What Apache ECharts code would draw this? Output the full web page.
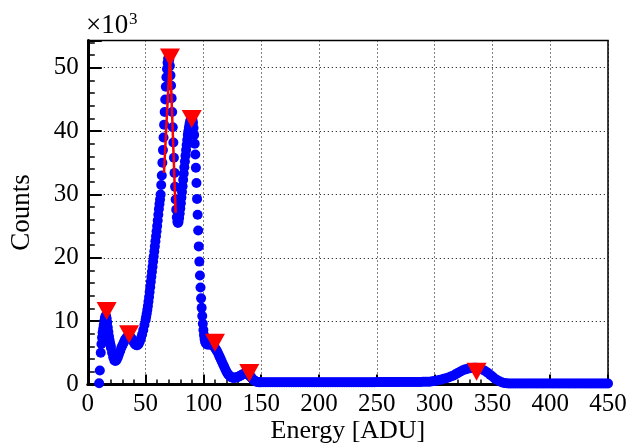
<!DOCTYPE html>
<html>
<head>
<meta charset="utf-8">
<script src="https://cdn.jsdelivr.net/npm/echarts@6/dist/echarts.min.js"></script>
<style>html,body{margin:0;padding:0;background:#fff;}#c{width:630px;height:444px;}</style>
</head>
<body>
<div id="c"></div>
<script>
// Energy [ADU], Counts [x10^3]
const lowEnergy = [[9.8,0.2],[10.4,2.2],[11.2,5.0],[11.8,6.4],[12.3,7.4],[12.8,8.2],[13.3,8.8],[13.8,9.4],[14.3,10.0],[14.8,10.5],
  [15.3,10.8],[15.8,10.8],[16.3,10.4],[16.8,9.8],[17.3,9.0],[17.8,8.3],[18.3,7.6],[18.8,7.0],[19.3,6.5],[19.8,6.1],
  [20,5.8],[21,5.0],[22,4.3],[23,3.8],[24,3.7],[25,3.9],[26,4.3],[27,4.8],[28,5.3],[29,5.8],
  [30,6.2],[31,6.6],[32,7.0],[33,7.3],[34,7.5],[35,7.6],[36,7.6],[37,7.5],[38,7.2],[39,6.9],
  [40,6.6],[41,6.3],[42,6.2],[43,6.2],[44,6.4],[45,6.8],[46,7.3],[47,7.9],[48,8.6],[49,9.4]];
const mainPeaks = [[50,10.2],[50.5,10.7],[51,11.2],[51.5,11.8],[52,12.4],[52.5,13.1],[53,13.8],[53.5,14.6],[54,15.4],[54.5,16.2],
  [55,17.0],[55.5,17.8],[56,18.6],[56.5,19.4],[57,20.2],[57.5,21.0],[58,21.8],[58.5,22.6],[59,23.4],[59.5,24.2],
  [60,25.0],[60.5,25.9],[61,26.8],[61.5,27.7],[62,28.5],[62.5,29.2],[63,30.0],[63.5,31.5],[64,33.0],[64.5,35.0],
  [65,37.0],[65.5,39.0],[66,41.0],[66.5,43.0],[67,45.0],[67.5,47.0],[68,48.5],[68.5,49.8],[69,50.8],[69.5,51.4],
  [70,51.6],[70.5,51.3],[71,50.3],[71.5,48.8],[72,47.2],[72.5,45.2],[73,43.0],[73.5,40.6],[74,38.2],[74.5,35.8],
  [75,33.4],[75.5,31.2],[76,29.2],[76.5,27.6],[77,26.4],[77.5,25.7],[78,25.5],[78.5,25.7],[79,26.3],[79.5,27.0],
  [80,27.8],[80.5,28.6],[81,29.5],[81.5,30.4],[82,31.3],[82.5,32.3],[83,33.3],[83.5,34.3],[84,35.2],[84.5,36.1],
  [85,37.0],[85.5,37.8],[86,38.6],[86.5,39.4],[87,40.0],[87.5,40.6],[88,41.1],[88.5,41.5],[89,41.8],[89.5,42.0],
  [90,42.0],[90.5,41.8],[91,41.3],[91.5,40.5],[92,39.4],[92.5,38.0],[93,36.3],[93.5,34.2],[94,31.8],[94.5,29.3],
  [95,26.8],[95.5,24.3],[96,21.8],[96.5,19.4],[97,17.2],[97.5,15.3],[98,13.6],[98.5,12.1],[99,10.8],[99.5,9.6],
  [100,8.6],[100.5,7.8],[101,7.2],[101.5,6.8]];
const tailRegion = [[102,6.5],[103,6.3],[104,6.3],[105,6.3],[106,6.3],[107,6.3],[108,6.2],[109,6.0],[110,5.8],[111,5.5],
  [112,5.2],[113,4.8],[114,4.4],[115,4.0],[116,3.6],[117,3.2],[118,2.8],[119,2.4],[120,2.0],[121,1.7],
  [122,1.5],[123,1.3],[124,1.15],[125,1.1],[126,1.05],[127,1.05],[128,1.1],[129,1.15],[130,1.2],[131,1.3],
  [132,1.4],[133,1.5],[134,1.6],[135,1.65],[136,1.7],[137,1.7],[138,1.65],[139,1.55],[140,1.4],[141,1.2],
  [142,1.0],[143,0.8],[144,0.65],[145,0.5],[146,0.45],[147,0.4],[148,0.35],[149,0.35]];
const flatRegion = [[150,0.35],[152,0.35],[154,0.35],[156,0.35],[158,0.35],[160,0.35],[162,0.35],[164,0.35],[166,0.35],[168,0.35],
  [170,0.35],[172,0.35],[174,0.35],[176,0.35],[178,0.35],[180,0.35],[182,0.35],[184,0.35],[186,0.35],[188,0.35],
  [190,0.35],[192,0.35],[194,0.35],[196,0.35],[198,0.35],[200,0.35],[202,0.35],[204,0.35],[206,0.35],[208,0.35],
  [210,0.35],[212,0.35],[214,0.35],[216,0.35],[218,0.35],[220,0.35],[222,0.35],[224,0.35],[226,0.35],[228,0.35],
  [230,0.35],[232,0.35],[234,0.35],[236,0.35],[238,0.35],[240,0.35],[242,0.35],[244,0.35],[246,0.35],[248,0.35],
  [250,0.38],[252,0.38],[254,0.38],[256,0.38],[258,0.38],[260,0.38],[262,0.38],[264,0.38],[266,0.38],[268,0.38],
  [270,0.4],[272,0.4],[274,0.4],[276,0.4],[278,0.4],[280,0.4],[282,0.4],[284,0.4],[286,0.4],[288,0.4],
  [290,0.42],[292,0.42],[294,0.44]];
const bumpRegion = [[296,0.45],[298,0.5],[300,0.55],[302,0.62],[304,0.7],[306,0.8],[308,0.9],[310,1.0],[312,1.1],[314,1.25],
  [316,1.4],[318,1.6],[320,1.8],[322,2.0],[324,2.2],[326,2.35],[328,2.45],[330,2.55],[332,2.6],[334,2.65],
  [336,2.65],[338,2.6],[340,2.45],[342,2.3],[344,2.1],[346,1.85],[348,1.55],[350,1.25],[352,0.95],[354,0.7],
  [356,0.5],[358,0.35],[360,0.25],[362,0.2]];
const highEnergy = [[364,0.15],[366,0.15],[368,0.15],[370,0.15],[372,0.15],[374,0.15],[376,0.15],[378,0.15],[380,0.15],[382,0.15],
  [384,0.15],[386,0.15],[388,0.15],[390,0.15],[392,0.15],[394,0.15],[396,0.15],[398,0.15],[400,0.15],[402,0.15],
  [404,0.15],[406,0.15],[408,0.15],[410,0.15],[412,0.15],[414,0.15],[416,0.15],[418,0.15],[420,0.15],[422,0.15],
  [424,0.15],[426,0.15],[428,0.15],[430,0.15],[432,0.15],[434,0.15],[436,0.15],[438,0.15],[440,0.15],[442,0.15],
  [444,0.15],[446,0.15],[448,0.15],[450,0.15]];
const foundPeaks = [[16.3,11.6],[35.7,7.95],[71.1,51.6],[89.9,41.9],[110,6.6],[139.7,1.8],[336.3,2.0]];
const fitLine = [[65.9,33.4],[71.1,52.0],[76,27.1]];
const xTicks = {min: 0, max: 450, step: 50};
const yTicks = {min: 0, max: 54.3, step: 10};

const spectrum = [].concat(lowEnergy, mainPeaks, tailRegion, flatRegion, bumpRegion, highEnergy);
const FONT = '"Liberation Serif", "Times New Roman", serif';

const chart = echarts.init(document.getElementById('c'), null, {renderer: 'canvas'});
chart.setOption({
  animation: false,
  backgroundColor: '#fff',
  grid: {left: 87.8, right: 22, top: 40.5, bottom: 59.5, containLabel: false, outerBoundsMode: 'none',
    show: true, borderColor: '#000', borderWidth: 1.5, backgroundColor: 'transparent'},
  xAxis: {
    type: 'value', min: xTicks.min, max: xTicks.max, interval: xTicks.step,
    name: 'Energy [ADU]', nameLocation: 'middle', nameGap: 34, nameMoveOverlap: false,
    nameTextStyle: {fontFamily: FONT, fontSize: 26, color: '#000'},
    axisLine: {show: true, onZero: false, lineStyle: {color: '#000', width: 3}},
    axisTick: {show: true, inside: true, length: 10, lineStyle: {color: '#000', width: 2}},
    minorTick: {show: true, splitNumber: 5, length: 5, lineStyle: {color: '#000', width: 1.5}},
    splitLine: {show: true, lineStyle: {color: '#000', width: 1, type: [1, 3]}},
    axisLabel: {fontFamily: FONT, fontSize: 25, color: '#000', margin: 7}
  },
  yAxis: {
    type: 'value', min: yTicks.min, max: yTicks.max, interval: yTicks.step,
    name: 'Counts', nameLocation: 'middle', nameGap: 52, nameMoveOverlap: false,
    nameTextStyle: {fontFamily: FONT, fontSize: 27, color: '#000'},
    axisLine: {show: true, onZero: false, lineStyle: {color: '#000', width: 3}},
    axisTick: {show: true, inside: true, length: 14, lineStyle: {color: '#000', width: 2}},
    minorTick: {show: true, splitNumber: 5, length: 7, lineStyle: {color: '#000', width: 1.5}},
    splitLine: {show: true, lineStyle: {color: '#000', width: 1, type: [1, 3]}},
    axisLabel: {fontFamily: FONT, fontSize: 25, color: '#000', margin: 9, showMaxLabel: false,
      formatter: v => (Math.abs(v % 10) < 1e-6 ? String(v) : '')}
  },
  graphic: [
    {type: 'text', left: 86, top: 12, style: {text: '×10', font: '27px ' + FONT, fill: '#000'}},
    {type: 'text', left: 129, top: 11, style: {text: '3', font: '17px ' + FONT, fill: '#000'}}
  ],
  series: [
    {type: 'scatter', data: spectrum, symbol: 'circle', symbolSize: 10, itemStyle: {color: '#0000ff', opacity: 1}, clip: false, z: 2},
    {type: 'line', data: fitLine, symbol: 'none', lineStyle: {color: '#ff0000', width: 2.5}, z: 3},
    {type: 'scatter', data: foundPeaks, symbol: 'triangle', symbolRotate: 180, symbolSize: [20, 18], itemStyle: {color: '#ff0000', opacity: 1}, clip: false, z: 4}
  ]
});
</script>
</body>
</html>
